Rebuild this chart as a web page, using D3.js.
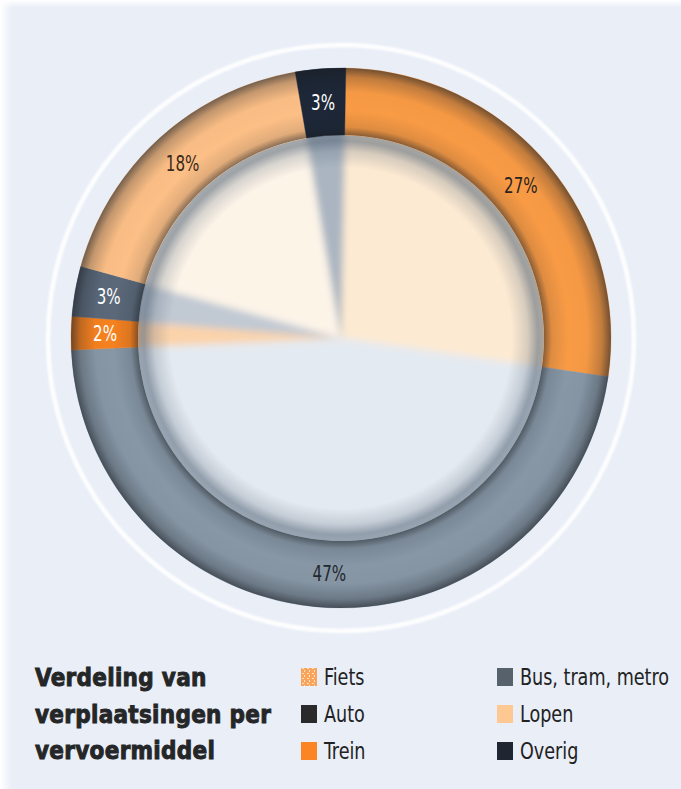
<!DOCTYPE html>
<html>
<head>
<meta charset="utf-8">
<script src="https://cdn.jsdelivr.net/npm/d3@7/dist/d3.min.js"></script>
<style>
  html, body { margin: 0; padding: 0; background: #e9eef7; }
  svg { display: block; }
</style>
</head>
<body>
<svg id="chart" width="681" height="789"></svg>
<script>
// ---- data ----
const categories = ["Fiets", "Auto", "Trein", "Bus, tram, metro", "Lopen", "Overig"];
const values = [27, 47, 2, 3, 18, 3];
const labels = ["27%", "47%", "2%", "3%", "18%", "3%"];
const titleLines = ["Verdeling van", "verplaatsingen per", "vervoermiddel"];
const legendCol1 = ["Fiets", "Auto", "Trein"];
const legendCol2 = ["Bus, tram, metro", "Lopen", "Overig"];

// ---- styles ----
const ringColor = d3.scaleOrdinal().domain(categories)
  .range(["#f99b45", "#8797a6", "#f6811f", "#5a6879", "#fcbf86", "#1d2737"]);
const innerColor = d3.scaleOrdinal().domain(categories)
  .range(["#fdead2", "#e4eaf1", "#fbd3ab", "#c1c9d3", "#fdf4e8", "#aab5c1"]);
const labelColor = d3.scaleOrdinal().domain(categories)
  .range(["#2a2320", "#22272d", "#ffffff", "#ffffff", "#3a2a1c", "#ffffff"]);
const legendColor = d3.scaleOrdinal().domain(categories)
  .range(["url(#fietsPat)", "#2a2a2c", "#fb8424", "#56616c", "#fdc891", "#1f2531"]);

const svg = d3.select("#chart");
const W = 681, H = 789;
const cx = 341, cy = 338, R = 270, Ri = 203;
const rot = 0.018;
const narrowFont = "'DejaVu Sans Condensed', 'DejaVu Sans', sans-serif";

const defs = svg.append("defs");

// background
svg.append("rect").attr("width", W).attr("height", H).attr("fill", "#e9eef7");
const lg = defs.append("linearGradient").attr("id", "leftEdge").attr("x1", 0).attr("x2", 1);
lg.append("stop").attr("offset", 0).attr("stop-color", "#ffffff").attr("stop-opacity", 1);
lg.append("stop").attr("offset", 1).attr("stop-color", "#ffffff").attr("stop-opacity", 0);
svg.append("rect").attr("x", 0).attr("y", 0).attr("width", 12).attr("height", H).attr("fill", "url(#leftEdge)");
const tg = defs.append("linearGradient").attr("id", "topEdge").attr("x1", 0).attr("x2", 0).attr("y1", 0).attr("y2", 1);
tg.append("stop").attr("offset", 0).attr("stop-color", "#ffffff").attr("stop-opacity", 1);
tg.append("stop").attr("offset", 1).attr("stop-color", "#ffffff").attr("stop-opacity", 0);
svg.append("rect").attr("x", 0).attr("y", 0).attr("width", W).attr("height", 8).attr("fill", "url(#topEdge)");

// filters
defs.append("filter").attr("id", "blurIn").attr("x", -0.2).attr("y", -0.2).attr("width", 1.4).attr("height", 1.4)
  .append("feGaussianBlur").attr("stdDeviation", 3.5);
defs.append("filter").attr("id", "blurSoft")
  .append("feGaussianBlur").attr("stdDeviation", 0.8);
defs.append("clipPath").attr("id", "innerClip").append("circle").attr("r", Ri);

// shading gradients
const ringShade = defs.append("radialGradient").attr("id", "ringShade")
  .attr("gradientUnits", "userSpaceOnUse").attr("cx", 0).attr("cy", 0).attr("r", R);
[[Ri / R, 0.5], [(Ri + 8) / R, 0.12], [(Ri + 25) / R, 0], [(R - 24) / R, 0.02], [(R - 9) / R, 0.25], [1, 0.6]]
  .forEach(([o, a]) => ringShade.append("stop").attr("offset", o).attr("stop-color", "#1a1e24").attr("stop-opacity", a));
const innerShade = defs.append("radialGradient").attr("id", "innerShade")
  .attr("gradientUnits", "userSpaceOnUse").attr("cx", 0).attr("cy", 0).attr("r", Ri);
[[0.84, 0], [0.92, 0.22], [0.97, 0.55], [1, 0.5]]
  .forEach(([o, a]) => innerShade.append("stop").attr("offset", o).attr("stop-color", "#4f6073").attr("stop-opacity", a));

// pattern for Fiets legend
const pat = defs.append("pattern").attr("id", "fietsPat").attr("patternUnits", "userSpaceOnUse")
  .attr("width", 5).attr("height", 5);
pat.append("rect").attr("width", 5).attr("height", 5).attr("fill", "#f9a45a");
pat.append("rect").attr("x", 1).attr("y", 1).attr("width", 2).attr("height", 1).attr("fill", "#fde3c6");
pat.append("rect").attr("x", 3).attr("y", 3).attr("width", 1).attr("height", 2).attr("fill", "#fde3c6");

// ---- pie ----
const data = categories.map((c, i) => ({ cat: c, value: values[i], label: labels[i] }));
const pie = d3.pie().value(d => d.value).sort(null).startAngle(rot).endAngle(2 * Math.PI + rot);
const arcs = pie(data);

const g = svg.append("g").attr("transform", `translate(${cx},${cy})`);

// outer white ring
g.append("circle").attr("r", 293).attr("fill", "none").attr("stroke", "#ffffff")
  .attr("stroke-width", 4.5).attr("opacity", 0.95).attr("filter", "url(#blurSoft)");

// inner disc (light versions)
const innerG = g.append("g").attr("clip-path", "url(#innerClip)");
const innerArc = d3.arc().innerRadius(0).outerRadius(Ri + 20);
innerG.append("g").attr("filter", "url(#blurIn)")
  .selectAll("path").data(arcs).join("path")
  .attr("d", innerArc).attr("fill", d => innerColor(d.data.cat))
  .attr("stroke", d => innerColor(d.data.cat)).attr("stroke-width", 0.5);
innerG.append("circle").attr("r", Ri).attr("fill", "url(#innerShade)");

// ring
const ringArc = d3.arc().innerRadius(Ri).outerRadius(R);
g.append("g").selectAll("path").data(arcs).join("path")
  .attr("d", ringArc).attr("fill", d => ringColor(d.data.cat))
  .attr("stroke", d => ringColor(d.data.cat)).attr("stroke-width", 0.4);
g.append("path").attr("d", d3.arc().innerRadius(Ri).outerRadius(R).startAngle(0).endAngle(2 * Math.PI)())
  .attr("fill", "url(#ringShade)");

// labels
const labelArc = d3.arc().innerRadius(236).outerRadius(236);
g.append("g").selectAll("text").data(arcs).join("text")
  .attr("transform", d => `translate(${labelArc.centroid(d)}) scale(0.8,1)`)
  .attr("text-anchor", "middle").attr("dy", "0.36em")
  .attr("font-family", narrowFont)
  .attr("font-size", 21)
  .attr("fill", d => labelColor(d.data.cat))
  .text(d => d.data.label);

// ---- title ----
const titleY = d3.scalePoint().domain(titleLines).range([686, 759]);
svg.append("g").selectAll("text").data(titleLines).join("text")
  .attr("transform", d => `translate(35,${titleY(d)}) scale(0.96,1)`)
  .attr("font-family", "'DejaVu Sans Condensed', 'DejaVu Sans', sans-serif")
  .attr("font-weight", "bold").attr("font-size", 25)
  .attr("fill", "#252627").attr("stroke", "#252627").attr("stroke-width", 0.9)
  .attr("letter-spacing", 0.3)
  .text(d => d);

// ---- legend ----
const rowY = d3.scalePoint().domain([0, 1, 2]).range([677, 751]);
function legendCol(items, x) {
  const lgG = svg.append("g");
  const row = lgG.selectAll("g").data(items).join("g")
    .attr("transform", (d, i) => `translate(${x},${rowY(i)})`);
  row.append("rect").attr("x", 0).attr("y", -9).attr("width", 16).attr("height", 18)
    .attr("fill", d => legendColor(d));
  row.append("text").attr("transform", "translate(23,0) scale(0.85,1)").attr("dy", "0.36em")
    .attr("font-family", narrowFont)
    .attr("font-size", 23).attr("fill", "#222")
    .text(d => d);
}
legendCol(legendCol1, 301);
legendCol(legendCol2, 497);
</script>
</body>
</html>
